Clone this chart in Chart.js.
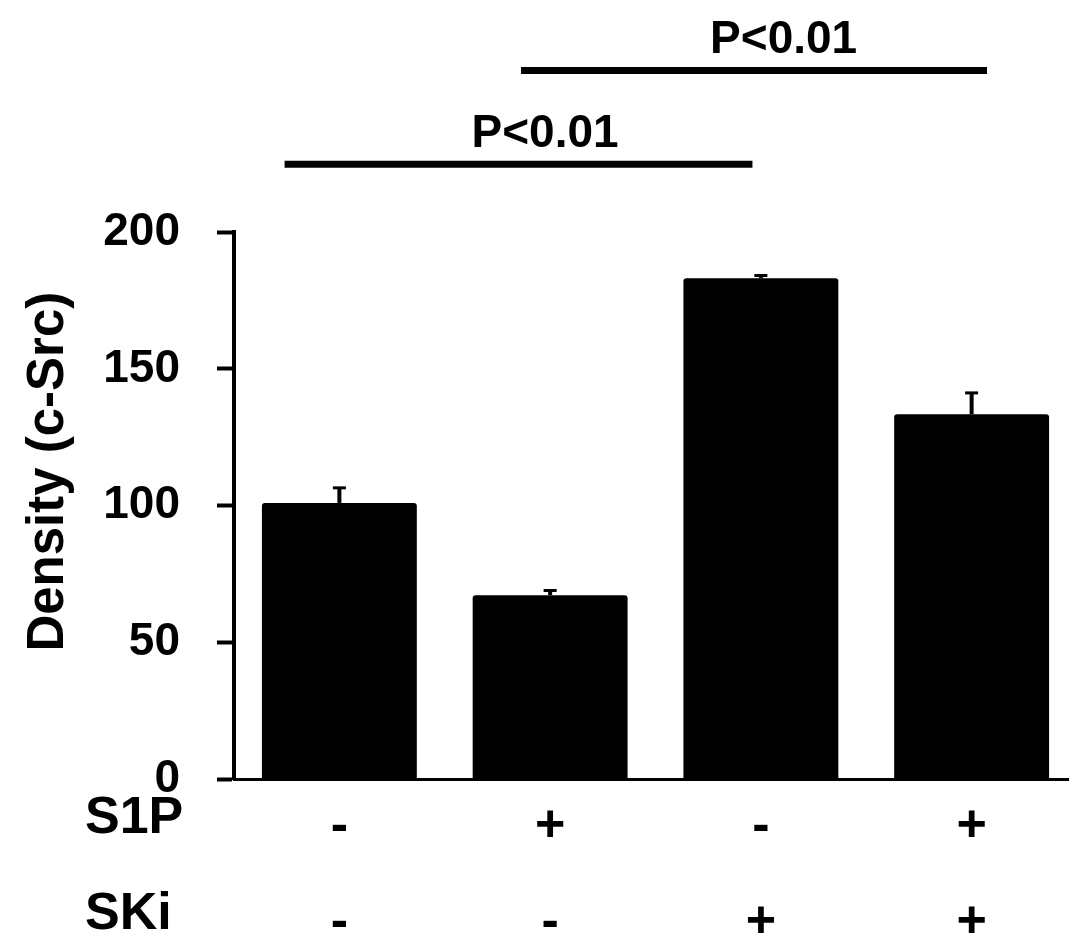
<!DOCTYPE html>
<html>
<head>
<meta charset="utf-8">
<script src="https://cdn.jsdelivr.net/npm/chart.js@4/dist/chart.umd.min.js"></script>
<style>
  html, body { margin: 0; padding: 0; background: #fff; overflow: hidden; }
  #wrap { width: 1069px; height: 941px; overflow: hidden; position: relative; }
  #c { position: absolute; left: 0; top: 0; }
</style>
</head>
<body>
<div id="wrap"><canvas id="c" width="1077" height="941"></canvas></div>
<script>
// ---- data ----
const s1pSigns = ['-', '+', '-', '+'];
const skiSigns = ['-', '-', '+', '+'];
const rowLabels = ['S1P', 'SKi'];
const densityValues = [101, 67.3, 183.1, 133.4];
const errorValues = [5.5, 1.7, 1.0, 7.8];
const yTickStep = 50;
const yMin = 0;
const yMax = 200;
const yTitle = 'Density (c-Src)';
const comparisonLabels = ['P<0.01', 'P<0.01'];

const categoryLabels = s1pSigns.map((s, i) => [s, skiSigns[i]]);
const FONT = "'Liberation Sans', Arial, Helvetica, sans-serif";
Chart.defaults.font.family = FONT;
Chart.defaults.color = '#000';

const X_FONT_SIZE = 52;
const X_LINE_H = 96.5;
const X_PAD = -9;

const errorBarPlugin = {
  id: 'errorBars',
  afterDatasetsDraw(chart) {
    const meta = chart.getDatasetMeta(0);
    const y = chart.scales.y;
    const ctx = chart.ctx;
    ctx.save();
    ctx.strokeStyle = '#000';
    meta.data.forEach((el, i) => {
      const top = y.getPixelForValue(densityValues[i] + errorValues[i]);
      ctx.lineWidth = 4;
      ctx.beginPath();
      ctx.moveTo(el.x, el.y);
      ctx.lineTo(el.x, top);
      ctx.stroke();
      ctx.lineWidth = 3;
      ctx.beginPath();
      ctx.moveTo(el.x - 6.5, top);
      ctx.lineTo(el.x + 6.5, top);
      ctx.stroke();
    });
    ctx.restore();
  }
};

const annotationPlugin = {
  id: 'annots',
  afterDraw(chart, args, opts) {
    const ctx = chart.ctx;
    const x = chart.scales.x;
    const y = chart.scales.y;
    ctx.save();
    ctx.fillStyle = '#000';
    ctx.strokeStyle = '#000';
    // significance bars
    opts.brackets.forEach((b, i) => {
      const py = y.getPixelForValue(b.lineAt);
      ctx.lineWidth = 7;
      ctx.beginPath();
      ctx.moveTo(x.getPixelForValue(b.from), py);
      ctx.lineTo(x.getPixelForValue(b.to), py);
      ctx.stroke();
      ctx.font = 'bold 46px ' + FONT;
      ctx.textAlign = 'center';
      ctx.textBaseline = 'alphabetic';
      ctx.fillText(comparisonLabels[i], x.getPixelForValue(b.textX), y.getPixelForValue(b.textAt));
    });
    // row labels
    ctx.font = 'bold ' + X_FONT_SIZE + 'px ' + FONT;
    ctx.textAlign = 'left';
    ctx.textBaseline = 'middle';
    rowLabels.forEach((t, i) => {
      ctx.fillText(t, 85, x.top + X_PAD + X_LINE_H / 2 + i * X_LINE_H);
    });
    // y title
    ctx.save();
    ctx.translate(63, (chart.chartArea.top + chart.chartArea.bottom) / 2 - 34);
    ctx.rotate(-Math.PI / 2);
    ctx.font = 'bold 51px ' + FONT;
    ctx.textAlign = 'center';
    ctx.textBaseline = 'alphabetic';
    ctx.fillText(yTitle, 0, 0);
    ctx.restore();
    ctx.restore();
  }
};

new Chart(document.getElementById('c'), {
  type: 'bar',
  data: {
    labels: categoryLabels,
    datasets: [{
      data: densityValues,
      backgroundColor: '#000',
      borderWidth: 0,
      borderRadius: 3,
      borderSkipped: 'bottom',
      barPercentage: 0.735,
      categoryPercentage: 1.0
    }]
  },
  options: {
    responsive: false,
    animation: false,
    devicePixelRatio: 1,
    layout: { padding: { top: 232, right: 0, bottom: 0, left: 0 } },
    plugins: {
      legend: { display: false },
      tooltip: { enabled: false },
      title: { display: false },
      annots: {
        brackets: [
          { from: -0.26, to: 1.96, lineAt: 224.8, textX: 0.976, textAt: 231.2 },
          { from: 0.862, to: 3.073, lineAt: 259.0, textX: 2.108, textAt: 265.4 }
        ]
      }
    },
    scales: {
      x: {
        offset: true,
        grid: { display: false },
        border: { display: true, color: '#000', width: 3 },
        ticks: {
          autoSkip: false,
          maxRotation: 0,
          minRotation: 0,
          padding: X_PAD,
          color: '#000',
          font: { size: X_FONT_SIZE, weight: 'bold', lineHeight: X_LINE_H / X_FONT_SIZE }
        },
        afterFit(scale) { scale.height = 941 - 779.3; }
      },
      y: {
        min: yMin,
        max: yMax,
        grid: {
          display: true,
          drawOnChartArea: false,
          drawTicks: true,
          tickLength: 17,
          tickWidth: 4,
          tickColor: '#000',
          color: '#000'
        },
        border: { display: true, color: '#000', width: 4 },
        ticks: {
          stepSize: yTickStep,
          padding: 37,
          color: '#000',
          font: { size: 46, weight: 'bold' }
        },
        afterFit(scale) { scale.width = 234; }
      }
    }
  },
  plugins: [errorBarPlugin, annotationPlugin]
});
</script>
</body>
</html>
